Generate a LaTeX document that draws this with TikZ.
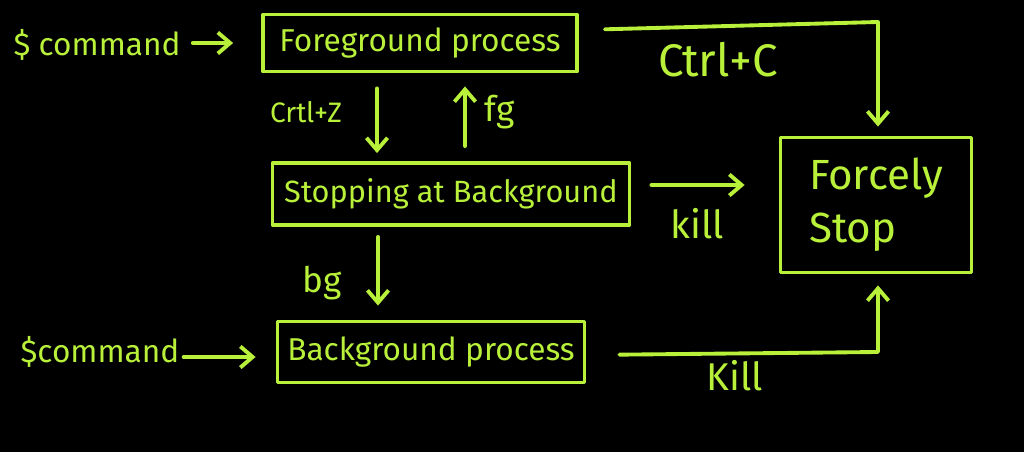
\documentclass[tikz,border=0pt]{standalone}
\usepackage{fontspec}
\setmainfont{Fira Sans}
\usetikzlibrary{arrows.meta}
\definecolor{lime}{HTML}{B8F03A}
\tikzset{
  ink/.style={draw=lime, line width=2.2pt, line cap=round, line join=round},
  boxnode/.style={ink, rectangle, inner sep=0pt, text=lime, font=\fontsize{18}{20}\selectfont},
  lbl/.style={text=lime, inner sep=0pt},
  arr/.style={ink, -{Straight Barb[length=7pt,width=12pt,line width=2.2pt]}},
}
\begin{document}
\begin{tikzpicture}[x=0.02cm,y=-0.02cm]
\fill[black] (0,0) rectangle (1024,452);
\useasboundingbox (0,0) rectangle (1024,452);

% boxes
\node[boxnode, minimum width=6.28cm, minimum height=1.14cm] (fg) at (420,43) {Foreground process};
\node[boxnode, minimum width=7.14cm, minimum height=1.24cm, font=\fontsize{17.5}{20}\selectfont] (stop) at (451,194) {Stopping at Background};
\node[boxnode, minimum width=6.14cm, minimum height=1.22cm] (bgp) at (431,352) {Background process};
\node[boxnode, minimum width=3.82cm, minimum height=2.7cm, align=left, font=\fontsize{24}{30}\selectfont] (force) at (876,205) {Forcely\\Stop};

% texts
\node[lbl, font=\fontsize{18}{20}\selectfont] (cmd1) at (97,45) {\$ command};
\node[lbl, font=\fontsize{18}{20}\selectfont] (cmd2) at (100,352) {\$command};
\node[lbl, font=\fontsize{26}{28}\selectfont] (ctrlc) at (718,60) {Ctrl+C};
\node[lbl, font=\fontsize{16}{18}\selectfont] (ctrlz) at (306,112) {Crtl+Z};
\node[lbl, font=\fontsize{20}{22}\selectfont] (fglbl) at (500,112) {fg};
\node[lbl, font=\fontsize{20}{22}\selectfont] (bglbl) at (322,283) {bg};
\node[lbl, font=\fontsize{22}{24}\selectfont] (kill1) at (697,224) {kill};
\node[lbl, font=\fontsize{22}{24}\selectfont] (kill2) at (735,376) {Kill};

% corner coordinates
\coordinate (c1) at (878,22);
\coordinate (c2) at (878,352);

% connectors
\draw[arr] (cmd1.east) ++(12,-2) coordinate (a1s) -- (fg.west |- a1s) [shorten >=0.56cm];
\draw[arr, shorten <=0.52cm] (fg.east |- 0,30) -- (c1) -- (force.north -| c1) [shorten >=0.18cm];
\draw[arr, shorten <=0.3cm, shorten >=0.16cm] (fg.south -| 377,0) -- (stop.north -| 377,0);
\draw[arr, shorten <=0.3cm, shorten >=0.26cm] (stop.north -| 465,0) -- (fg.south -| 465,0);
\draw[arr, shorten <=0.4cm, shorten >=0.68cm] (stop.east |- 0,185) -- (force.west |- 0,185);
\draw[arr, shorten <=0.2cm, shorten >=0.28cm] (stop.south -| 378,0) -- (bgp.north -| 378,0);
\draw[arr, shorten >=0.4cm] (cmd2.east) ++(4,5) coordinate (a2s) -- (bgp.west |- a2s);
\draw[arr, shorten <=0.66cm] (bgp.east |- 0,355) -- (c2) -- (force.south -| c2) [shorten >=0.22cm];
\end{tikzpicture}
\end{document}
